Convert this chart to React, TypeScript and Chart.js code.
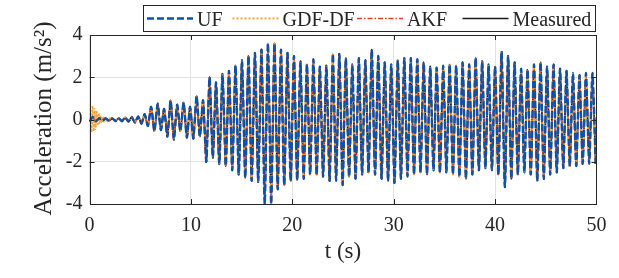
import React, { useEffect, useRef } from 'react';
import { Chart, registerables } from 'chart.js';

Chart.register(...registerables);

// ---------- data ----------
const seriesNames = ['UF', 'GDF-DF', 'AKF', 'Measured'];
const xTickValues = [0, 10, 20, 30, 40, 50];
const yTickValues = [-4, -2, 0, 2, 4];

// time between the successive extrema listed below (s)
const sampleStep = 0.32;

// measured acceleration, successive extrema (m/s^2)
const measuredValues = [
  -0.1, 0.12, -0.08, 0.06, -0.05, 0.05, -0.06, 0.05, -0.07, 0.06,
  -0.08, 0.1, -0.1, 0.12, -0.15, 0.15, -0.2, 0.25, -0.3, 0.6,
  -0.55, 0.75, -0.5, 0.5, -0.8, 0.9, -0.95, 0.7, -0.55, 0.8,
  -0.85, 0.6, -0.9, 1.1, -0.8, 0.9,
  -2.0, 2.0, -1.8, 1.75, -2.1, 2.15, -2.2, 2.3, -2.4, 2.55,
  -2.6, 2.8, -2.75, 3.0, -2.9, 3.15, -2.95, 3.3, -4.0, 3.6,
  -4.0, 3.6, -3.3, 3.3, -3.1, 3.15, -2.9, 3.0, -2.85, 2.75,
  -2.8, 2.6, -2.6, 2.85, -2.6, 2.5, -2.7, 2.55, -2.9, 3.1,
  -2.9, 3.1, -3.1, 2.9, -2.7, 2.6, -2.8, 2.9, -2.6, 2.8,
  -2.5, 3.3, -2.6, 3.0, -2.8, 2.7, -2.9, 2.6, -3.0, 2.8,
  -2.8, 2.9, -2.7, 2.9, -2.6, 2.85, -2.5, 2.7, -2.6, 2.5,
  -2.4, 2.45, -2.5, 2.55, -2.5, 2.6, -2.6, 2.55, -2.7, 2.7,
  -2.8, 2.6, -2.6, 2.9, -2.4, 2.75, -2.3, 2.6, -2.4, 2.5,
  -2.6, 3.2, -3.2, 3.0, -2.8, 2.7, -2.6, 2.4, -2.5, 2.35,
  -2.6, 2.6, -2.9, 2.7, -2.8, 2.5, -2.6, 2.6, -2.5, 2.4,
  -2.3, 2.3, -2.2, 2.2, -2.2, 2.1, -2.1, 2.2, -2.1, 2.2,
  -2.1,
];
// UF and AKF estimates coincide with the measured trace at this resolution
const ufValues = measuredValues.slice();
const akfValues = measuredValues.slice();
// GDF-DF: initial transient (first 2 s, 0.1 s apart), then follows the others
const gdfTransientStep = 0.1;
const gdfTransientValues = [
  0, 0.45, -0.6, 0.65, -0.55, 0.5, -0.45, 0.4, -0.3, 0.3,
  -0.2, 0.2, -0.15, 0.12, -0.1, 0.08, -0.08, 0.06, -0.05, 0.05,
];
const gdfValues = measuredValues.slice();

// ---------- styling ----------
const FONT = "'Liberation Serif', 'Times New Roman', 'DejaVu Serif', serif";
const AX = '#262626';
const colors = ['#1250a6', '#f7a23a', '#e4401c', '#1a1a1a'];
const dashes: number[][] = [[7, 3], [2, 2], [5, 2, 1.5, 2], []];
const widths = [2.4, 1.8, 1.3, 1.8];
const legendWidths = [2.4, 2, 1.5, 1.5];

const toPoints = (vals: number[], step: number) =>
  vals.map((v, i) => ({ x: i * step, y: v }));

const matlabFrame = {
  id: 'matlabFrame',
  afterDatasetsDraw(chart: any) {
    const { ctx, chartArea: a, scales } = chart;
    ctx.save();
    // inner tick marks
    ctx.strokeStyle = AX;
    ctx.lineWidth = 1;
    ctx.beginPath();
    xTickValues.forEach((v) => {
      const px = Math.round(scales.x.getPixelForValue(v)) + 0.5;
      if (px < a.left + 2 || px > a.right - 2) return;
      ctx.moveTo(px, a.bottom);
      ctx.lineTo(px, a.bottom - 5);
      ctx.moveTo(px, a.top);
      ctx.lineTo(px, a.top + 5);
    });
    yTickValues.forEach((v) => {
      const py = Math.round(scales.y.getPixelForValue(v)) + 0.5;
      if (py < a.top + 2 || py > a.bottom - 2) return;
      ctx.moveTo(a.left, py);
      ctx.lineTo(a.left + 5, py);
      ctx.moveTo(a.right, py);
      ctx.lineTo(a.right - 5, py);
    });
    ctx.stroke();
    // box
    ctx.strokeRect(Math.round(a.left) + 0.5, Math.round(a.top) + 0.5,
      Math.round(a.right - a.left) - 1, Math.round(a.bottom - a.top));

    // axis titles
    ctx.fillStyle = AX;
    ctx.font = `23px ${FONT}`;
    ctx.textAlign = 'center';
    ctx.textBaseline = 'alphabetic';
    ctx.fillText('t (s)', (a.left + a.right) / 2, 258);
    ctx.save();
    ctx.translate(51, (a.top + a.bottom) / 2 - 1);
    ctx.rotate(-Math.PI / 2);
    ctx.font = `25px ${FONT}`;
    ctx.fillText('Acceleration (m/s\u00B2)', 0, 0);
    ctx.restore();

    // legend
    const box = { l: 143.5, t: 5.5, r: 595.5, b: 31.5 };
    ctx.fillStyle = '#ffffff';
    ctx.fillRect(box.l, box.t, box.r - box.l, box.b - box.t);
    ctx.strokeStyle = AX;
    ctx.lineWidth = 1;
    ctx.strokeRect(box.l, box.t, box.r - box.l, box.b - box.t);
    const lineStarts = [147, 232.5, 357, 462.5];
    const cy = 18.5;
    ctx.font = `20px ${FONT}`;
    ctx.textAlign = 'left';
    seriesNames.forEach((name, i) => {
      const x0 = lineStarts[i];
      ctx.save();
      ctx.strokeStyle = colors[i];
      ctx.lineWidth = legendWidths[i];
      ctx.setLineDash(dashes[i]);
      ctx.beginPath();
      ctx.moveTo(x0, cy);
      ctx.lineTo(x0 + 46, cy);
      ctx.stroke();
      ctx.restore();
      ctx.fillStyle = AX;
      ctx.fillText(name, x0 + 50, 25.5);
    });
    ctx.restore();
  },
};

export default function App() {
  const ref = useRef<HTMLCanvasElement | null>(null);

  useEffect(() => {
    if (!ref.current) return;
    const gdfData = [
      ...toPoints(gdfTransientValues, gdfTransientStep),
      ...toPoints(gdfValues, sampleStep).filter((p) => p.x >= 2),
    ];
    const seriesData = [
      toPoints(ufValues, sampleStep),
      gdfData,
      toPoints(akfValues, sampleStep),
      toPoints(measuredValues, sampleStep),
    ];
    const drawOrder = [0, 1, 2, 3];
    const chart = new Chart(ref.current, {
      type: 'line',
      data: {
        datasets: seriesNames.map((name, i) => ({
          label: name,
          data: seriesData[i],
          borderColor: colors[i],
          backgroundColor: colors[i],
          borderWidth: widths[i],
          borderDash: dashes[i],
          pointRadius: 0,
          tension: 0.2,
          fill: false,
          clip: 0,
          order: drawOrder[i],
        })),
      },
      options: {
        animation: false,
        responsive: false,
        devicePixelRatio: 1,
        events: [],
        layout: { padding: { top: 35, right: 22.5, left: 0, bottom: 0 } },
        plugins: { legend: { display: false }, tooltip: { enabled: false }, title: { display: false } },
        scales: {
          x: {
            type: 'linear',
            min: 0,
            max: 50,
            afterFit: (s: any) => { s.height = 74; },
            afterBuildTicks: (s: any) => { s.ticks = xTickValues.map((v) => ({ value: v })); },
            ticks: { padding: 10, color: AX, font: { family: FONT, size: 20 }, maxRotation: 0 },
            grid: { color: '#e3e3e3', lineWidth: 1, drawTicks: false },
            border: { display: false },
          },
          y: {
            type: 'linear',
            min: -4,
            max: 4,
            afterFit: (s: any) => { s.width = 89.5; },
            afterBuildTicks: (s: any) => { s.ticks = yTickValues.map((v) => ({ value: v })); },
            ticks: { padding: 7, color: AX, font: { family: FONT, size: 20 } },
            grid: { color: '#e3e3e3', lineWidth: 1, drawTicks: false },
            border: { display: false },
          },
        },
      },
      plugins: [matlabFrame],
    });
    return () => chart.destroy();
  }, []);

  return (
    <div style={{ position: 'fixed', left: 0, top: 0, width: 619, height: 278, background: '#fff' }}>
      <canvas ref={ref} width={619} height={278} style={{ display: 'block', width: 619, height: 278 }} />
    </div>
  );
}
